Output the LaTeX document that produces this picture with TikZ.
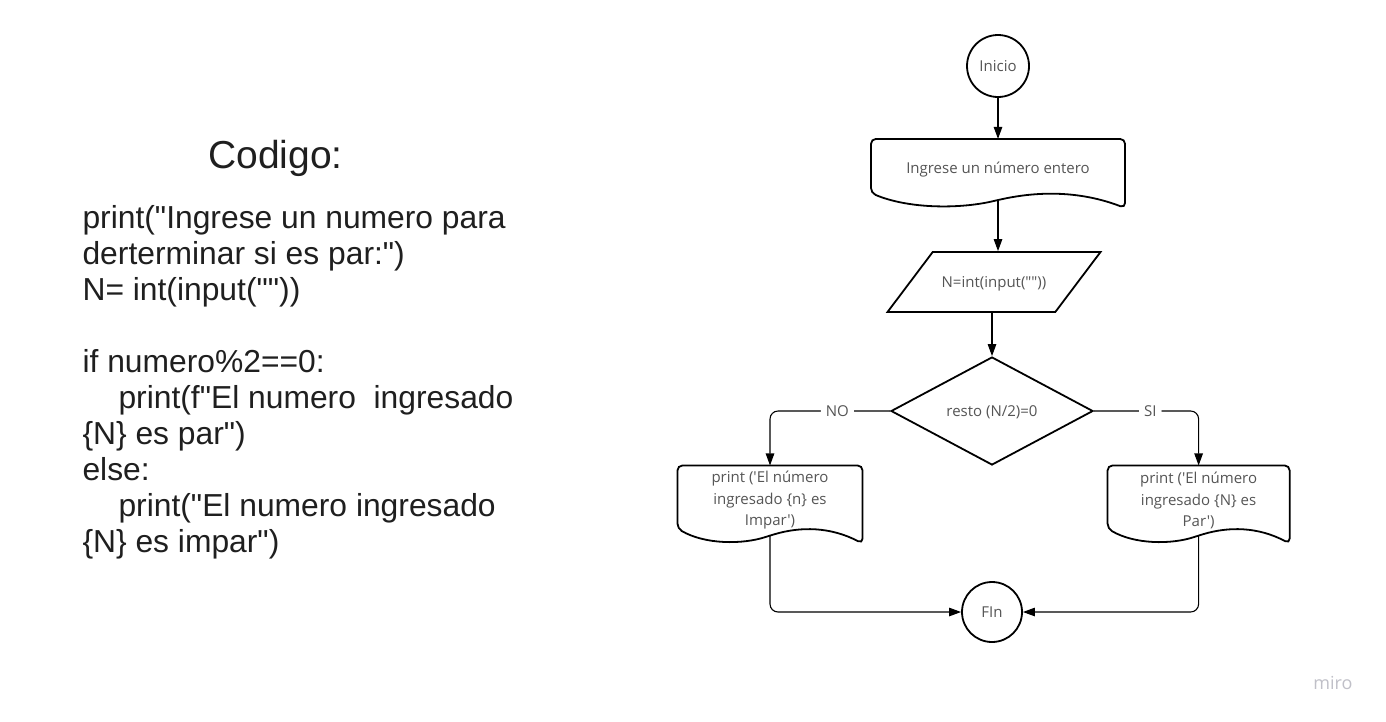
\documentclass[tikz,border=0pt]{standalone}
\usepackage{fontspec}
\setmainfont{Liberation Sans}[Ligatures=TeXOff]
\newfontfamily\boxfont{Open Sans}[Ligatures=TeXOff]
\usetikzlibrary{arrows.meta,calc,positioning,shapes.geometric}
\definecolor{boxtext}{HTML}{555555}
\definecolor{codetext}{HTML}{1F1F1F}
\definecolor{mirogray}{HTML}{C0C0C8}

% outline of a document box, wavy bottom through #1.south
\newcommand{\docoutline}[1]{%
  \draw[shape line, rounded corners=5pt]
    (#1.west) -- (#1.north west) -- (#1.north east)
    -- ($(#1.south east)+(0,8)$)
    .. controls ($(#1.south)!0.65!(#1.south east)+(0,-9)$)
           and ($(#1.south)!0.33!(#1.south east)+(0,-9)$) .. (#1.south)
    .. controls ($(#1.south)!0.3!(#1.south west)+(0,9)$)
           and ($(#1.south)!0.7!(#1.south west)+(0,9)$) .. ($(#1.south west)+(0,-7)$)
    -- cycle;}

\begin{document}
\begin{tikzpicture}[
    x = 1pt, y = -1pt, % one unit per pixel, y downwards
    > = {Triangle[length=12pt,width=8.5pt]}, % arrow head style
    line width = 1.1pt % line style
    ]

    \tikzset{
    shape line/.style = {draw = black, line width = 1.8pt},
    box text/.style = {font = \boxfont\fontsize{15}{21.5}\selectfont, text = boxtext},
    terminal/.style = {circle, shape line, box text, minimum size = 62pt, inner sep = 0pt},
    doc/.style = {rectangle, box text, align = center, inner sep = 0pt},
    io/.style = {trapezium, trapezium left angle = 53, trapezium right angle = 127,
      trapezium stretches body = true, shape line, box text,
      text height = 13pt, text depth = 2pt, inner ysep = 22.5pt,
      minimum width = 213pt, minimum height = 60pt},
    decision/.style = {diamond, shape line, box text, minimum width = 202pt,
      minimum height = 108pt, inner sep = 0pt, text depth = 0pt},
    branch/.style = {box text, fill = white, inner xsep = 5pt, inner ysep = 1pt},
    link/.style = {rounded corners = 8pt},
    code/.style = {font = \fontsize{31.8}{36}\selectfont, text = codetext,
      align = left, inner sep = 0pt}
    }

    \fill[white] (0,0) rectangle (1386,721);
    \useasboundingbox (0,0) rectangle (1386,721);

    % code on the left
    \node[font = \fontsize{39}{45}\selectfont, text = codetext] (titulo) at (275.5,158) {Codigo:};
    \node[code, anchor = north west] (codigo) at (82,205) {print("Ingrese un numero para\\
      derterminar si es par:")\\
      N= int(input(""))\\[36pt]
      if numero\%2==0:\\
      \hspace*{36pt}print(f"El numero\ \ ingresado\\
      \{N\} es par")\\
      else:\\
      \hspace*{36pt}print("El numero ingresado\\
      \{N\} es impar")};

    % flowchart
    \node[terminal] (inicio) at (998,66) {Inicio};
    \node[doc, minimum width = 253pt, minimum height = 60pt] (leer) [below = 41pt of inicio] {Ingrese un número entero};
    \node[io] (entrada) at (994,282) {N=int(input(""))};
    \node[decision] (resto) at (992,411) {resto (N/2)=0};
    \node[doc, minimum width = 184pt, minimum height = 69pt] (impar) at (770,500.5) {print ('El número\\ingresado \{n\} es\\Impar')};
    \node[doc, minimum width = 181pt, minimum height = 69pt] (par) [right = 245pt of impar] {print ('El número\\ingresado \{N\} es\\Par')};
    \node[terminal, minimum size = 60pt] (fin) at (992,612) {FIn};

    \docoutline{leer}
    \docoutline{impar}
    \docoutline{par}

    \draw[->] (inicio) -- (leer);
    \draw[->] (leer.south) -- (leer.south |- entrada.north);
    \draw[->] (entrada.south -| resto.north) -- (resto.north);
    \draw[->, link] (resto.west) -| node[branch, pos = 0.22] {NO} (impar.north);
    \draw[->, link] (resto.east) -| node[branch, pos = 0.27] {SI} (par.north);
    \draw[->, link] (impar.south) |- (fin.west);
    \draw[->, link] (par.south) |- (fin.east);

    \node[font = \boxfont\fontsize{18}{20}\selectfont, text = mirogray] (marca) at (1333,683) {miro};
\end{tikzpicture}
\end{document}
